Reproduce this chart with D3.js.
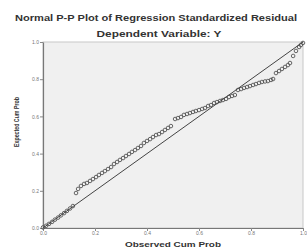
<!DOCTYPE html>
<html><head><meta charset="utf-8">
<script src="https://cdn.jsdelivr.net/npm/d3@7"></script>
<style>body{margin:0;background:#fff}svg{display:block}</style>
</head><body>
<script>
const titleText = "Normal P-P Plot of Regression Standardized Residual";
const subtitleText = "Dependent Variable: Y";
const xLabel = "Observed Cum Prob";
const yLabel = "Expected Cum Prob";
const tickValues = [0, 0.2, 0.4, 0.6, 0.8, 1.0];
const tickLabels = ["0.0", "0.2", "0.4", "0.6", "0.8", "1.0"];

const observed = [0,.012,.023,.035,.046,.058,.069,.081,.092,.104,.115,
  .127,.135,.146,.158,.169,.181,.192,.204,.215,.227,.238,.250,.262,.273,.285,.296,.308,.319,.331,.342,.354,.365,.377,.388,.400,.412,.423,.435,.446,.458,.469,.481,.492,
  .508,.519,.531,.542,.554,.565,.577,.588,.600,.612,.623,
  .635,.646,.658,.669,.681,.692,.704,.715,.727,.738,
  .750,.762,.773,.785,.796,.808,.819,.831,.842,.854,.865,.877,.885,
  .896,.908,.919,.931,.942,.950,
  .962,.973,.985,.992,1.0];
const expected = [.003,.012,.022,.033,.045,.056,.068,.080,.092,.105,.118,
  .188,.210,.226,.237,.242,.253,.263,.274,.285,.296,.306,.317,.328,.344,.355,.366,.376,.387,.398,.409,.419,.430,.441,.457,.468,.478,.489,.500,.505,.516,.527,.538,.548,
  .586,.591,.597,.608,.613,.618,.624,.629,.634,.640,.645,
  .656,.661,.672,.677,.683,.688,.694,.704,.710,.715,
  .742,.747,.753,.758,.763,.769,.774,.780,.785,.788,.790,.796,.801,
  .833,.844,.855,.866,.876,.887,
  .925,.952,.973,.984,.995];
const refLine = [0, 1];

const W = 307, H = 249;
const svg = d3.select("body").append("svg").attr("width", W).attr("height", H);
const x = d3.scaleLinear().domain([0, 1]).range([43, 303]);
const y = d3.scaleLinear().domain([0, 1]).range([228, 42]);

svg.append("rect").attr("x", x(0)).attr("y", y(1)).attr("width", x(1) - x(0)).attr("height", y(0) - y(1))
  .attr("fill", "#f0f0f0").attr("stroke", "#c8c8c8").attr("stroke-width", 1);

const font = "Arial, 'Liberation Sans', sans-serif";
const fmt = (v) => tickLabels[tickValues.indexOf(v)];
const xAxis = svg.append("g").attr("transform", `translate(0,${y(0)})`)
  .call(d3.axisBottom(x).tickValues(tickValues).tickFormat(fmt).tickSize(3).tickSizeOuter(0));
const yAxis = svg.append("g").attr("transform", `translate(${x(0)},0)`)
  .call(d3.axisLeft(y).tickValues(tickValues).tickFormat(fmt).tickSize(3).tickSizeOuter(0));
[xAxis, yAxis].forEach(g => {
  g.select(".domain").attr("stroke", "#777").attr("stroke-width", 1.2);
  g.selectAll(".tick line").attr("stroke", "#888");
  g.selectAll(".tick text").attr("fill", "#777").style("font-family", font).style("font-size", "5px");
});
xAxis.selectAll(".tick text").attr("dy", "0.9em").attr("y", 2);
yAxis.selectAll(".tick text").attr("x", -4);

// points
svg.append("g").selectAll("circle").data(observed.map((o, i) => [o, expected[i]])).join("circle")
  .attr("cx", d => x(d[0])).attr("cy", d => y(d[1])).attr("r", 1.8)
  .attr("fill", "none").attr("stroke", "#555").attr("stroke-width", 0.9);

// reference line
svg.append("line").attr("x1", x(refLine[0])).attr("y1", y(refLine[0])).attr("x2", x(refLine[1])).attr("y2", y(refLine[1]))
  .attr("stroke", "#444").attr("stroke-width", 1);

svg.append("text").attr("x", 156).attr("y", 21).attr("text-anchor", "middle")
  .attr("textLength", 282).attr("lengthAdjust", "spacingAndGlyphs")
  .style("font-family", font).style("font-size", "8.5px").style("font-weight", "bold").attr("fill", "#333").text(titleText);
svg.append("text").attr("x", 159).attr("y", 37).attr("text-anchor", "middle")
  .attr("textLength", 125).attr("lengthAdjust", "spacingAndGlyphs")
  .style("font-family", font).style("font-size", "8.5px").style("font-weight", "bold").attr("fill", "#333").text(subtitleText);
svg.append("text").attr("x", 173).attr("y", 247).attr("text-anchor", "middle")
  .attr("textLength", 96).attr("lengthAdjust", "spacingAndGlyphs")
  .style("font-family", font).style("font-size", "8px").style("font-weight", "bold").attr("fill", "#333").text(xLabel);
svg.append("text").attr("transform", "translate(19,122) rotate(-90)").attr("text-anchor", "middle")
  .attr("textLength", 50).attr("lengthAdjust", "spacingAndGlyphs")
  .style("font-family", font).style("font-size", "6.5px").style("font-weight", "bold").attr("fill", "#333").text(yLabel);
</script>
</body></html>
